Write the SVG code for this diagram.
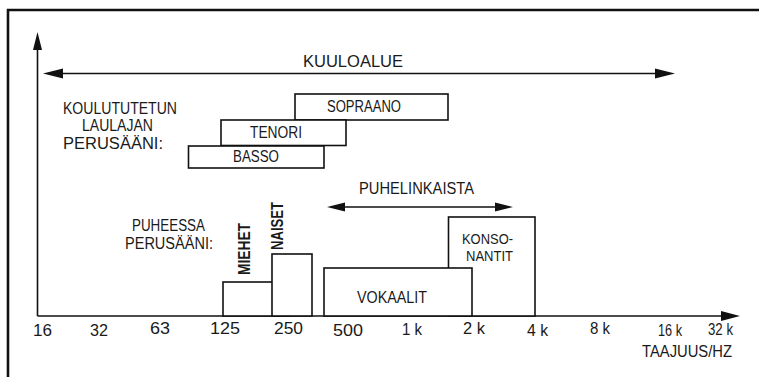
<svg xmlns="http://www.w3.org/2000/svg" width="759" height="377" viewBox="0 0 759 377">
<defs>
<style>
text{font-family:"Liberation Sans","DejaVu Sans",sans-serif;fill:#1a1a1a;font-size:16px}
.box{fill:#fff;stroke:#111;stroke-width:1.6}
.ln{stroke:#111;stroke-width:1.6;fill:none}
.ah{fill:#111}
.tick{font-size:16px}
.bold{font-weight:bold;font-size:16px}
.sm{font-size:14px}
</style>
</defs>
<rect width="759" height="377" fill="#fff"/>
<g id="frame">
<path d="M8 377 V10 H759" fill="none" stroke="#111" stroke-width="2.6"/>
</g>
<g id="connectors">
<line class="ln" x1="37.5" y1="48" x2="37.5" y2="316"/>
<polygon class="ah" points="37.5,32 33,50 42,50"/>
<line class="ln" x1="37.5" y1="316" x2="724" y2="316"/>
<polygon class="ah" points="740,316 721,311 721,321"/>
<line class="ln" x1="60" y1="73.5" x2="660" y2="73.5"/>
<polygon class="ah" points="43,73.5 63,68.5 63,78.5"/>
<polygon class="ah" points="675,73.5 655,68.5 655,78.5"/>
<line class="ln" x1="340" y1="207" x2="500" y2="207"/>
<polygon class="ah" points="327,207 345,202.5 345,211.5"/>
<polygon class="ah" points="513,207 495,202.5 495,211.5"/>
</g>
<g id="kuuloalue"><text x="303" y="67" textLength="100" lengthAdjust="spacingAndGlyphs" font-size="17">KUULOALUE</text></g>
<g id="label-koulutettu">
<text x="63" y="114" textLength="114" lengthAdjust="spacingAndGlyphs">KOULUTUTETUN</text>
<text x="82" y="131" textLength="71" lengthAdjust="spacingAndGlyphs">LAULAJAN</text>
<text x="63" y="149" textLength="100" lengthAdjust="spacingAndGlyphs">PERUSÄÄNI:</text>
</g>
<g id="sopraano"><rect class="box" x="295" y="94" width="153" height="26"/><text x="327" y="112" textLength="74" lengthAdjust="spacingAndGlyphs">SOPRAANO</text></g>
<g id="tenori"><rect class="box" x="221" y="120" width="125" height="25.5"/><text x="250" y="138" textLength="52" lengthAdjust="spacingAndGlyphs">TENORI</text></g>
<g id="basso"><rect class="box" x="188.5" y="146" width="135.5" height="22"/><text x="233" y="162" textLength="46" lengthAdjust="spacingAndGlyphs">BASSO</text></g>
<g id="puhelinkaista"><text x="359" y="194" textLength="115" lengthAdjust="spacingAndGlyphs">PUHELINKAISTA</text></g>
<g id="label-puheessa">
<text x="132" y="231" textLength="73" lengthAdjust="spacingAndGlyphs">PUHEESSA</text>
<text x="125" y="249" textLength="88" lengthAdjust="spacingAndGlyphs">PERUSÄÄNI:</text>
</g>
<g id="miehet"><rect class="box" x="223" y="282" width="66" height="34"/><text class="bold" transform="translate(250,275) rotate(-90)" textLength="52" lengthAdjust="spacingAndGlyphs">MIEHET</text></g>
<g id="naiset"><rect class="box" x="272" y="254" width="40" height="62"/><text class="bold" transform="translate(283,250) rotate(-90)" textLength="48" lengthAdjust="spacingAndGlyphs">NAISET</text></g>
<g id="konsonantit"><rect class="box" x="448.5" y="217" width="86.5" height="99"/>
<text class="sm" x="462" y="244" textLength="51" lengthAdjust="spacingAndGlyphs">KONSO-</text>
<text class="sm" x="466" y="261" textLength="47" lengthAdjust="spacingAndGlyphs">NANTIT</text></g>
<g id="vokaalit"><rect class="box" x="324" y="268" width="148" height="48"/><text x="357" y="303" textLength="70" lengthAdjust="spacingAndGlyphs">VOKAALIT</text></g>
<g id="ticks">
<text class="tick" x="33" y="336" textLength="19" lengthAdjust="spacingAndGlyphs">16</text>
<text class="tick" x="90" y="336" textLength="18" lengthAdjust="spacingAndGlyphs">32</text>
<text class="tick" x="150" y="334" textLength="20" lengthAdjust="spacingAndGlyphs">63</text>
<text class="tick" x="210" y="334" textLength="30" lengthAdjust="spacingAndGlyphs">125</text>
<text class="tick" x="274" y="334" textLength="29" lengthAdjust="spacingAndGlyphs">250</text>
<text class="tick" x="333" y="336" textLength="30" lengthAdjust="spacingAndGlyphs">500</text>
<text class="tick" x="402" y="335" textLength="20" lengthAdjust="spacingAndGlyphs">1 k</text>
<text class="tick" x="463" y="334" textLength="22" lengthAdjust="spacingAndGlyphs">2 k</text>
<text class="tick" x="527" y="336" textLength="21" lengthAdjust="spacingAndGlyphs">4 k</text>
<text class="tick" x="590" y="334" textLength="20" lengthAdjust="spacingAndGlyphs">8 k</text>
<text class="tick" x="658" y="336" textLength="24" lengthAdjust="spacingAndGlyphs" fill="#555">16 k</text>
<text class="tick" x="708" y="335" textLength="25" lengthAdjust="spacingAndGlyphs" fill="#555">32 k</text>
<text x="642" y="357" textLength="90" lengthAdjust="spacingAndGlyphs" fill="#444">TAAJUUS/HZ</text>
</g>
</svg>
